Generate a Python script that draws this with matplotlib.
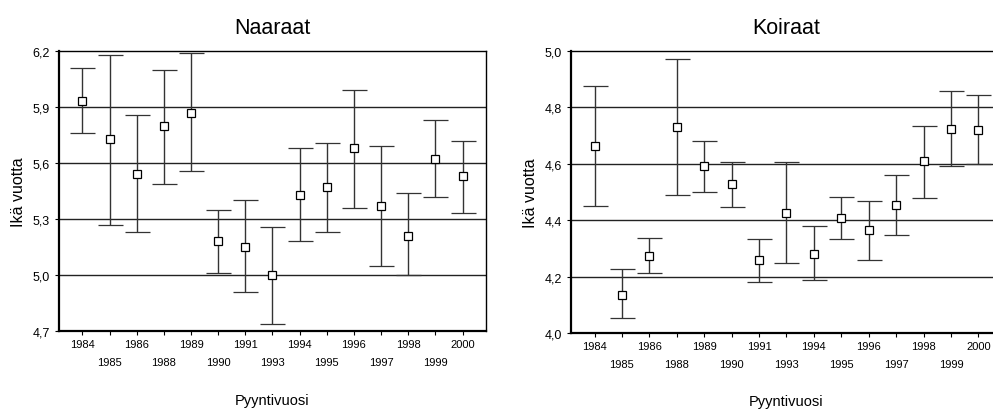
import numpy as np
import matplotlib
matplotlib.use("Agg")
import matplotlib.pyplot as plt
from matplotlib.ticker import FuncFormatter

plt.rcParams['font.family'] = ['Liberation Sans', 'DejaVu Sans']

# pyyntivuodet (x-akselin luokat)
years = ['1984', '1985', '1986', '1988', '1989', '1990', '1991', '1993',
         '1994', '1995', '1996', '1997', '1998', '1999', '2000']

# naaraat: keskiarvo ja luottamusvälin ala- ja yläraja
f_mean = [5.93, 5.73, 5.54, 5.80, 5.87, 5.18, 5.15, 5.00, 5.43, 5.47, 5.68, 5.37, 5.21, 5.62, 5.53]
f_low = [5.76, 5.27, 5.23, 5.49, 5.56, 5.01, 4.91, 4.74, 5.18, 5.23, 5.36, 5.05, 5.00, 5.42, 5.33]
f_high = [6.11, 6.18, 5.86, 6.10, 6.19, 5.35, 5.40, 5.26, 5.68, 5.71, 5.99, 5.69, 5.44, 5.83, 5.72]

# koiraat
m_mean = [4.665, 4.137, 4.275, 4.731, 4.591, 4.527, 4.259, 4.425, 4.282, 4.408, 4.366, 4.456, 4.61, 4.724, 4.721]
m_low = [4.452, 4.054, 4.212, 4.488, 4.50, 4.447, 4.18, 4.247, 4.19, 4.334, 4.259, 4.349, 4.479, 4.591, 4.60]
m_high = [4.875, 4.226, 4.337, 4.972, 4.68, 4.606, 4.334, 4.606, 4.381, 4.484, 4.467, 4.562, 4.735, 4.858, 4.846]

f_yticks = [4.7, 5.0, 5.3, 5.6, 5.9, 6.2]
m_yticks = [4.0, 4.2, 4.4, 4.6, 4.8, 5.0]

fig = plt.figure(figsize=(9.93, 4.10), dpi=100)
ax1 = fig.add_axes([0.0594, 0.190, 0.430, 0.683])
ax2 = fig.add_axes([0.575, 0.185, 0.434, 0.688])


def draw(ax, mean, low, high, yticks, title, xlpad):
    x = np.arange(len(years))
    mean = np.array(mean)
    err = [mean - np.array(low), np.array(high) - mean]
    for y in yticks[1:-1]:
        ax.axhline(y, color='#222222', lw=1.0, zorder=1)
    ax.errorbar(x, mean, yerr=err, fmt='s', ms=5.5, mfc='white', mec='black', mew=0.9,
                ecolor='#333333', elinewidth=1.0, capsize=9, capthick=1.0, zorder=3)
    ax.set_xlim(-0.86, 14.86)
    ax.set_ylim(yticks[0], yticks[-1])
    ax.set_yticks(yticks)
    ax.yaxis.set_major_formatter(FuncFormatter(lambda v, p: ('%.1f' % v).replace('.', ',')))
    ax.set_xticks(x[::2], [years[i] for i in x[::2]])
    ax.set_xticks(x[1::2], [years[i] for i in x[1::2]], minor=True)
    ax.tick_params(axis='both', which='both', direction='out', length=3, width=0.8,
                   colors='black')
    ax.tick_params(axis='x', which='both', labelsize=8)
    ax.tick_params(axis='y', labelsize=9)
    ax.tick_params(axis='x', which='major', pad=2.5)
    ax.tick_params(axis='x', which='minor', pad=15.5)
    for s in ['left', 'bottom']:
        ax.spines[s].set_linewidth(1.6)
    for s in ['top', 'right']:
        ax.spines[s].set_linewidth(1.0)
    ax.set_title(title, fontsize=15.5, pad=13)
    ax.set_ylabel('Ikä vuotta', fontsize=11.5, labelpad=5)
    ax.set_xlabel('Pyyntivuosi', fontsize=10.5, labelpad=xlpad)


draw(ax1, f_mean, f_low, f_high, f_yticks, 'Naaraat', 19)
draw(ax2, m_mean, m_low, m_high, m_yticks, 'Koiraat', 18)

fig.savefig('out.png', dpi=100)
